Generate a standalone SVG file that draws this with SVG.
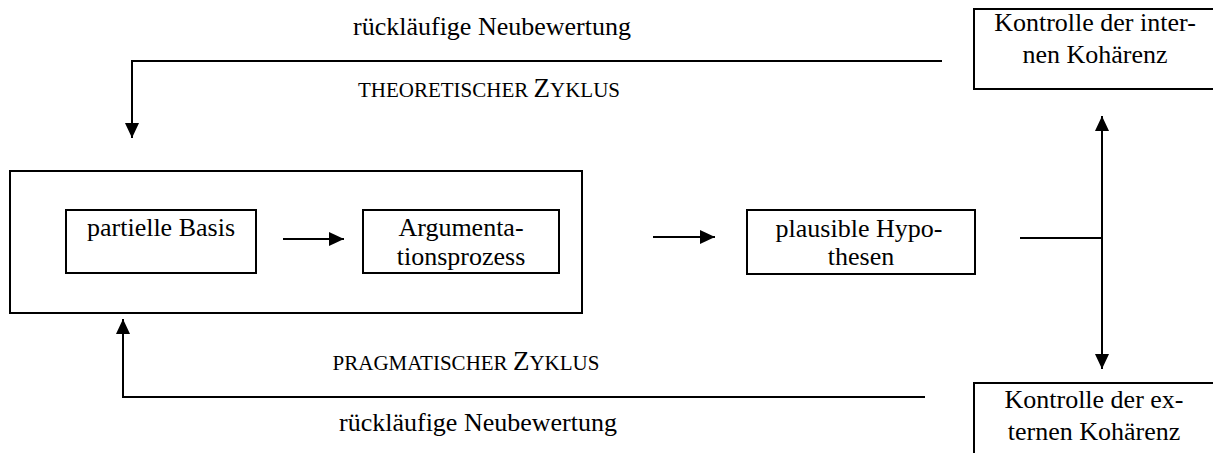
<svg xmlns="http://www.w3.org/2000/svg" width="1213" height="453" viewBox="0 0 1213 453">
  <style>
    .box { fill: #ffffff; stroke: #000000; stroke-width: 2; }
    .frame { fill: none; stroke: #000000; stroke-width: 2; }
    .link { fill: none; stroke: #000000; stroke-width: 2; }
    text { font-family: "Liberation Serif", "Times New Roman", serif; font-size: 26px; fill: #000000; text-anchor: middle; }
    .sc { font-size: 21px; }
    .big { font-size: 27px; }
  </style>
  <defs>
    <marker id="head" markerUnits="userSpaceOnUse" markerWidth="16" markerHeight="14" refX="15" refY="7" orient="auto-start-reverse">
      <path d="M0,0 L15,7 L0,14 Z" fill="#000000"/>
    </marker>
  </defs>

  <!-- connectors -->
  <g id="connectors">
    <path class="link" d="M942,61 H132 V138" marker-end="url(#head)"/>
    <path class="link" d="M925,397 H123 V319" marker-end="url(#head)"/>
    <path class="link" d="M283,239 H344" marker-end="url(#head)"/>
    <path class="link" d="M653,237 H715" marker-end="url(#head)"/>
    <path class="link" d="M1020,238 H1102"/>
    <path class="link" d="M1102,116 V369" marker-start="url(#head)" marker-end="url(#head)"/>
  </g>

  <!-- cycle labels -->
  <g id="labels">
    <text x="492" y="35">rückläufige Neubewertung</text>
    <text x="489" y="97"><tspan class="sc">THEORETISCHER </tspan><tspan class="big">Z</tspan><tspan class="sc">YKLUS</tspan></text>
    <text x="466" y="370"><tspan class="sc">PRAGMATISCHER </tspan><tspan class="big">Z</tspan><tspan class="sc">YKLUS</tspan></text>
    <text x="478" y="431">rückläufige Neubewertung</text>
  </g>

  <!-- enclosing frame of the argumentation stage -->
  <g id="stage">
    <rect class="frame" x="10" y="171" width="572" height="142"/>
  </g>

  <g id="partielle-basis">
    <rect class="box" x="66" y="210" width="190" height="63"/>
    <text x="161" y="236">partielle Basis</text>
  </g>

  <g id="argumentationsprozess">
    <rect class="box" x="363" y="210" width="196" height="63"/>
    <text x="461" y="236">Argumenta-</text>
    <text x="461" y="265">tionsprozess</text>
  </g>

  <g id="hypothesen">
    <rect class="box" x="747" y="210" width="228" height="64"/>
    <text x="859" y="237">plausible Hypo-</text>
    <text x="861" y="265">thesen</text>
  </g>

  <g id="interne-kohaerenz">
    <rect class="box" x="974" y="9" width="242" height="80"/>
    <text x="1095" y="31">Kontrolle der inter-</text>
    <text x="1095" y="63">nen Kohärenz</text>
  </g>

  <g id="externe-kohaerenz">
    <rect class="box" x="974" y="383" width="242" height="80"/>
    <text x="1094" y="408">Kontrolle der ex-</text>
    <text x="1094" y="440">ternen Kohärenz</text>
  </g>
</svg>
